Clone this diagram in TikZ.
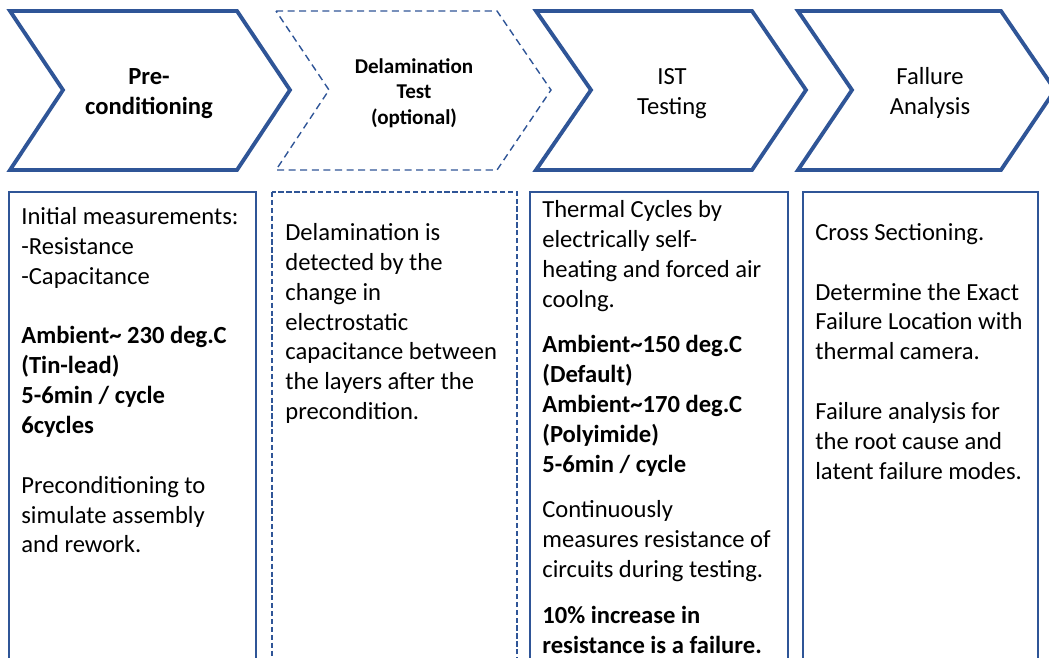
\documentclass[tikz,border=0pt]{standalone}
\usepackage{fontspec}
\setmainfont{Carlito}
\usepackage{tikz}
\definecolor{stepblue}{RGB}{47,85,151}

\begin{document}
\begin{tikzpicture}[x=0.02cm,y=-0.02cm]
    \tikzstyle{every node}+=[inner sep=0pt]
    \tikzstyle{chev}=[draw=stepblue, line width=2.2pt, line join=miter]
    \tikzstyle{chevopt}=[draw=stepblue, line width=0.8pt, dash pattern=on 4pt off 2.6pt]
    \tikzstyle{box}=[draw=stepblue, line width=1.1pt]
    \tikzstyle{boxopt}=[draw=stepblue, line width=1.1pt, dash pattern=on 3pt off 1.5pt]
    \tikzstyle{head}=[align=center, font=\fontsize{14}{17}\selectfont]
    \tikzstyle{body}=[align=left, anchor=north west, font=\fontsize{14}{17}\selectfont]
    \clip (0,0) rectangle (1049,658);
    \useasboundingbox (0,0) rectangle (1049,658);
    % chevrons
    \draw [chev] (10,11) -- (237,11) -- (290,90) -- (237,170) -- (10,170) -- (63,90) -- cycle;
    \draw [chevopt] (276,11) -- (497,11) -- (551,90) -- (497,170) -- (276,170) -- (329,90) -- cycle;
    \draw [chev] (536,11) -- (752,11) -- (806,90) -- (752,170) -- (536,170) -- (591,90) -- cycle;
    \draw [chev] (798,11) -- (1001,11) -- (1055,90) -- (1001,170) -- (798,170) -- (852,90) -- cycle;
    \node [head, font=\bfseries\fontsize{14}{17}\selectfont] (pre) at (149,94) {Pre-\\conditioning};
    \node [head, font=\bfseries\fontsize{12}{14.6}\selectfont] (delam) at (414,93) {Delamination\\Test\\(optional)};
    \node [head] (ist) at (672,94) {IST\\Testing};
    \node [head] (fa) at (930,93) {Fallure\\Analysis};
    % boxes
    \draw [box] (9,192) rectangle (256,700);
    \draw [boxopt] (272,192) rectangle (517,700);
    \draw [box] (530,192) rectangle (788,700);
    \draw [box] (803,192) rectangle (1038,700);
    \node [body] (pretext) at (21,207) {Initial measurements:\\-Resistance\\-Capacitance\\[17pt]
        \textbf{Ambient\textasciitilde{} 230 deg.C}\\\textbf{(Tin-lead)}\\\textbf{5-6min / cycle}\\\textbf{6cycles}\\[17pt]
        Preconditioning to\\simulate assembly\\and rework.};
    \node [body] (delamtext) at (285,223) {Delamination is\\detected by the\\change in\\electrostatic\\capacitance between\\the layers after the\\precondition.};
    \node [body] (isttext) at (542,200) {Thermal Cycles by\\electrically self-\\heating and forced air\\coolng.\\[9pt]
        \textbf{Ambient\textasciitilde150 deg.C}\\\textbf{(Default)}\\\textbf{Ambient\textasciitilde170 deg.C}\\\textbf{(Polyimide)}\\\textbf{5-6min / cycle}\\[9pt]
        Continuously\\measures resistance of\\circuits during testing.\\[9pt]
        \textbf{10\% increase in}\\\textbf{resistance is a failure.}};
    \node [body] (fatext) at (815,223) {Cross Sectioning.\\[17pt]
        Determine the Exact\\Failure Location with\\thermal camera.\\[17pt]
        Failure analysis for\\the root cause and\\latent failure modes.};
\end{tikzpicture}
\end{document}
